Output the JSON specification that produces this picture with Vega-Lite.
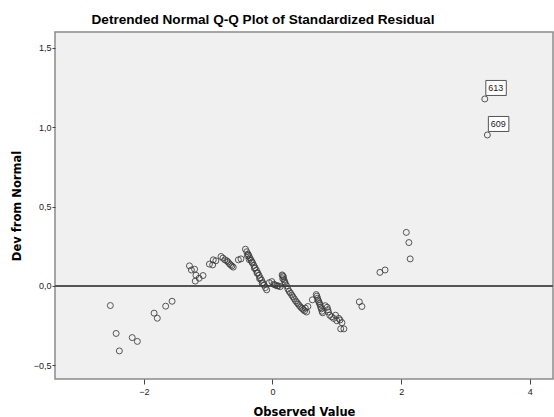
{
  "$schema": "https://vega.github.io/schema/vega-lite/v6.json",
  "width": 498,
  "height": 347,
  "autosize": {"type": "none"},
  "padding": {"left": 55, "top": 32, "right": 1, "bottom": 38},
  "background": "white",
  "title": {
    "text": "Detrended Normal Q-Q Plot of Standardized Residual",
    "font": "Liberation Sans",
    "fontSize": 13.6,
    "fontWeight": "bold",
    "color": "#000000",
    "anchor": "middle",
    "dx": -41,
    "offset": 5
  },
  "config": {
    "view": {"fill": "#f0f0f0", "stroke": "#8a8a8a", "strokeWidth": 1.5},
    "axis": {
      "grid": false,
      "domain": false,
      "tickColor": "#444444",
      "labelFont": "Liberation Sans",
      "labelFontSize": 9,
      "labelColor": "#222222",
      "titleFont": "DejaVu Sans",
      "titleFontSize": 11.5,
      "titleFontWeight": "bold",
      "titleColor": "#000000"
    }
  },
  "data": {
    "values": [
      {"x": -2.52, "y": -0.124}, {"x": -2.43, "y": -0.30}, {"x": -2.38, "y": -0.41},
      {"x": -2.18, "y": -0.326}, {"x": -2.10, "y": -0.35}, {"x": -1.84, "y": -0.172},
      {"x": -1.79, "y": -0.204}, {"x": -1.66, "y": -0.128}, {"x": -1.56, "y": -0.097},
      {"x": -1.29, "y": 0.126}, {"x": -1.26, "y": 0.10}, {"x": -1.21, "y": 0.105},
      {"x": -1.19, "y": 0.067}, {"x": -1.20, "y": 0.03}, {"x": -1.14, "y": 0.048},
      {"x": -1.08, "y": 0.065},
      {"x": -0.98, "y": 0.137}, {"x": -0.93, "y": 0.132}, {"x": -0.92, "y": 0.164},
      {"x": -0.88, "y": 0.158}, {"x": -0.80, "y": 0.185}, {"x": -0.77, "y": 0.175},
      {"x": -0.74, "y": 0.164}, {"x": -0.71, "y": 0.158}, {"x": -0.69, "y": 0.150},
      {"x": -0.67, "y": 0.140}, {"x": -0.65, "y": 0.132}, {"x": -0.63, "y": 0.125},
      {"x": -0.61, "y": 0.118}, {"x": -0.53, "y": 0.164}, {"x": -0.49, "y": 0.170},
      {"x": -0.42, "y": 0.231}, {"x": -0.40, "y": 0.215}, {"x": -0.38, "y": 0.200},
      {"x": -0.37, "y": 0.192}, {"x": -0.35, "y": 0.176}, {"x": -0.33, "y": 0.161},
      {"x": -0.31, "y": 0.145}, {"x": -0.29, "y": 0.129}, {"x": -0.27, "y": 0.114},
      {"x": -0.25, "y": 0.098}, {"x": -0.23, "y": 0.083}, {"x": -0.21, "y": 0.067},
      {"x": -0.19, "y": 0.051}, {"x": -0.17, "y": 0.036}, {"x": -0.15, "y": 0.020},
      {"x": -0.13, "y": 0.005}, {"x": -0.11, "y": -0.011}, {"x": -0.09, "y": -0.025},
      {"x": -0.39, "y": 0.190}, {"x": -0.36, "y": 0.165}, {"x": -0.32, "y": 0.150},
      {"x": -0.28, "y": 0.110}, {"x": -0.24, "y": 0.080}, {"x": -0.20, "y": 0.045},
      {"x": -0.16, "y": 0.015},
      {"x": -0.05, "y": 0.020}, {"x": -0.01, "y": 0.027}, {"x": 0.02, "y": 0.010},
      {"x": 0.04, "y": 0.006}, {"x": 0.07, "y": 0.0}, {"x": 0.09, "y": 0.0},
      {"x": 0.12, "y": -0.005},
      {"x": 0.15, "y": 0.069}, {"x": 0.16, "y": 0.063}, {"x": 0.16, "y": 0.045},
      {"x": 0.17, "y": 0.057}, {"x": 0.18, "y": 0.038}, {"x": 0.19, "y": 0.025},
      {"x": 0.20, "y": 0.015}, {"x": 0.22, "y": 0.0}, {"x": 0.24, "y": -0.02},
      {"x": 0.26, "y": -0.035}, {"x": 0.28, "y": -0.045}, {"x": 0.30, "y": -0.058},
      {"x": 0.32, "y": -0.07}, {"x": 0.34, "y": -0.082}, {"x": 0.36, "y": -0.095},
      {"x": 0.38, "y": -0.105}, {"x": 0.40, "y": -0.115}, {"x": 0.42, "y": -0.125},
      {"x": 0.44, "y": -0.135}, {"x": 0.46, "y": -0.142}, {"x": 0.48, "y": -0.150},
      {"x": 0.50, "y": -0.158}, {"x": 0.53, "y": -0.165}, {"x": 0.51, "y": -0.14},
      {"x": 0.55, "y": -0.13},
      {"x": 0.62, "y": -0.088}, {"x": 0.68, "y": -0.055}, {"x": 0.69, "y": -0.065},
      {"x": 0.70, "y": -0.078}, {"x": 0.71, "y": -0.09}, {"x": 0.72, "y": -0.10},
      {"x": 0.73, "y": -0.11}, {"x": 0.74, "y": -0.12}, {"x": 0.75, "y": -0.135},
      {"x": 0.76, "y": -0.145}, {"x": 0.77, "y": -0.16}, {"x": 0.78, "y": -0.17},
      {"x": 0.82, "y": -0.125}, {"x": 0.85, "y": -0.135}, {"x": 0.86, "y": -0.15},
      {"x": 0.87, "y": -0.165}, {"x": 0.89, "y": -0.185}, {"x": 0.92, "y": -0.195},
      {"x": 0.95, "y": -0.205}, {"x": 0.98, "y": -0.185}, {"x": 1.00, "y": -0.22},
      {"x": 1.03, "y": -0.205}, {"x": 1.05, "y": -0.215}, {"x": 1.08, "y": -0.232},
      {"x": 1.06, "y": -0.271}, {"x": 1.11, "y": -0.271},
      {"x": 1.35, "y": -0.101}, {"x": 1.39, "y": -0.13},
      {"x": 1.67, "y": 0.085}, {"x": 1.75, "y": 0.10},
      {"x": 2.08, "y": 0.337}, {"x": 2.12, "y": 0.273}, {"x": 2.14, "y": 0.17},
      {"x": 3.30, "y": 1.178, "label": "613"}, {"x": 3.34, "y": 0.951, "label": "609"}
    ]
  },
  "encoding": {
    "x": {
      "field": "x", "type": "quantitative",
      "scale": {"domain": [-3.38, 4.36], "nice": false, "zero": false},
      "axis": {"values": [-2, 0, 2, 4], "title": "Observed Value", "tickSize": 5, "labelPadding": 3, "titlePadding": 10, "format": "d"}
    },
    "y": {
      "field": "y", "type": "quantitative",
      "scale": {"domain": [-0.587, 1.60], "nice": false, "zero": false},
      "axis": {
        "values": [-0.5, 0, 0.5, 1, 1.5],
        "title": "Dev from Normal",
        "labelExpr": "replace(format(datum.value, '.1f'), '.', ',')",
        "tickSize": 3,
        "labelPadding": 1,
        "titleAngle": 270,
        "titleBaseline": "bottom",
        "titleX": -33
      }
    }
  },
  "layer": [
    {
      "mark": {"type": "rule", "color": "#555555", "strokeWidth": 1.5},
      "encoding": {"y": {"datum": 0}, "x": null}
    },
    {
      "mark": {"type": "point", "shape": "circle", "filled": false, "size": 36, "stroke": "#3a3a3a", "strokeWidth": 1, "opacity": 0.85}
    },
    {
      "transform": [{"filter": "isValid(datum.label)"}],
      "mark": {
        "type": "point",
        "shape": "M 0.1 -1.85 H 2.15 V -0.35 H 0.1 Z",
        "size": 400,
        "filled": true,
        "fill": "white",
        "stroke": "#555555",
        "strokeWidth": 1,
        "opacity": 1
      }
    },
    {
      "transform": [{"filter": "isValid(datum.label)"}],
      "mark": {"type": "text", "dx": 11, "dy": -11, "font": "Liberation Sans", "fontSize": 9, "color": "#222222", "align": "center", "baseline": "middle"},
      "encoding": {"text": {"field": "label"}}
    }
  ]
}
